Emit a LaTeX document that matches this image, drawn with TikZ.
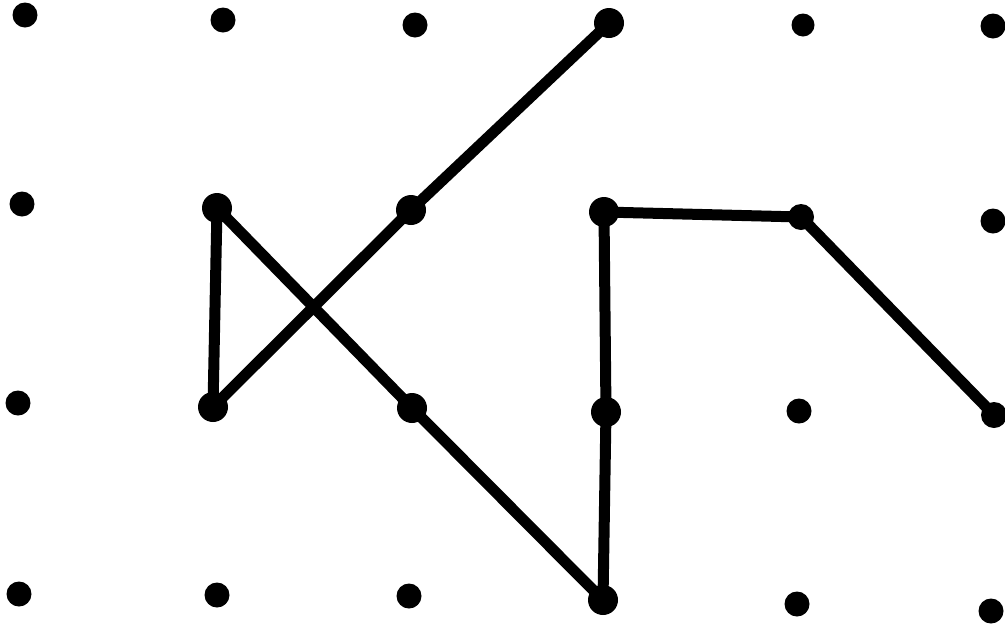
\documentclass[tikz,border=0pt]{standalone}
\begin{document}
\begin{tikzpicture}[x=1pt,y=-1pt,
  griddot/.style={circle,fill=black,inner sep=0pt,minimum size=25pt},
  pathdot/.style={circle,fill=black,inner sep=0pt,minimum size=30pt},
  seg/.style={line width=11pt,line join=round,line cap=round}]
\useasboundingbox (0,0) rectangle (1005,625);
% row 1
\node[griddot] (a1) at (25,15) {};
\node[griddot] (a2) at (223,20) {};
\node[griddot] (a3) at (415,25) {};
\node[pathdot] (a4) at (609,23) {};
\node[griddot,minimum size=23pt] (a5) at (803,25) {};
\node[griddot] (a6) at (993,26) {};
% row 2
\node[griddot] (b1) at (22,204) {};
\node[pathdot] (b2) at (217,208) {};
\node[pathdot] (b3) at (411,210) {};
\node[pathdot] (b4) at (604,212) {};
\node[pathdot,minimum size=26pt] (b5) at (801,217) {};
\node[griddot] (b6) at (993,221) {};
% row 3
\node[griddot] (c1) at (18,403) {};
\node[pathdot] (c2) at (213,407) {};
\node[pathdot] (c3) at (412,408) {};
\node[pathdot] (c4) at (606,412) {};
\node[griddot] (c5) at (799,411) {};
\node[pathdot,minimum size=26pt] (c6) at (994,415) {};
% row 4
\node[griddot] (d1) at (19,594) {};
\node[griddot] (d2) at (217,595) {};
\node[griddot] (d3) at (409,596) {};
\node[pathdot] (d4) at (603,600) {};
\node[griddot] (d5) at (797,604) {};
\node[griddot] (d6) at (991,611) {};
% path
\draw[seg] (a4.center) -- (b3.center) -- (c2.center) -- (b2.center) -- (c3.center)
  -- (d4.center) -- (c4.center) -- (b4.center) -- (b5.center) -- (c6.center);
\end{tikzpicture}
\end{document}
